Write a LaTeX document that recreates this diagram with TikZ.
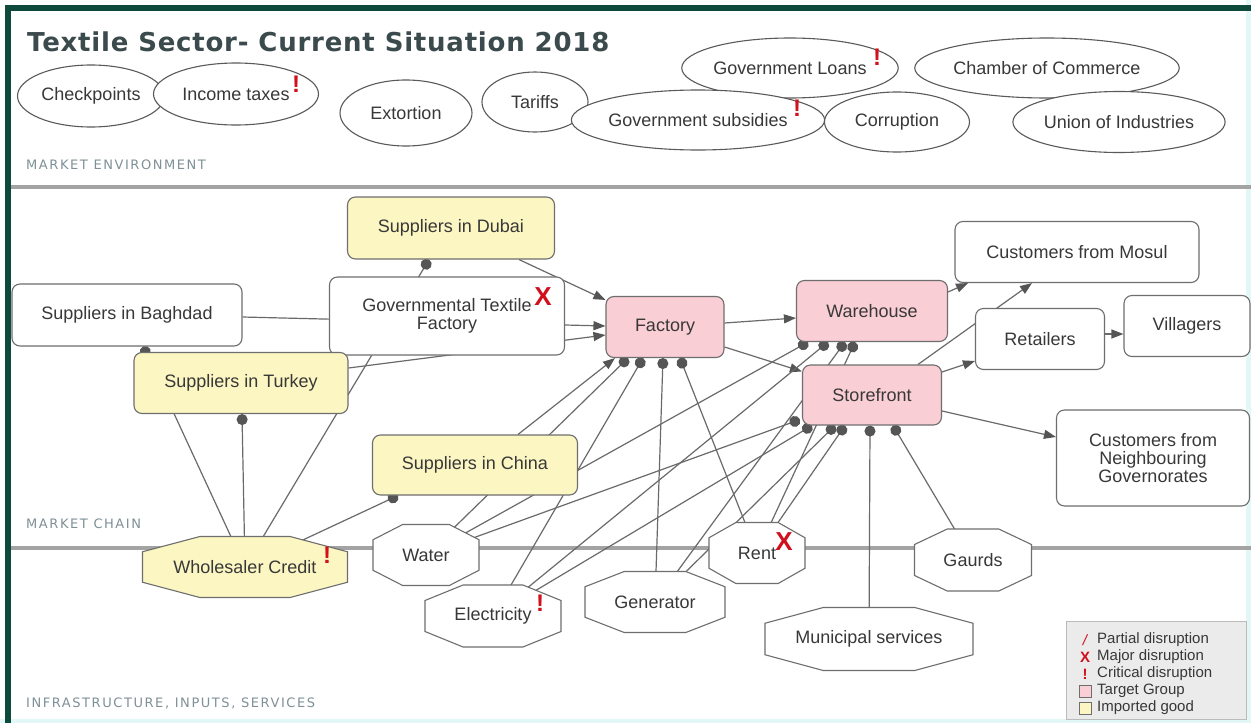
\documentclass[tikz,border=0pt]{standalone}
\usepackage{fontspec}
\setmainfont{Liberation Sans}
\newfontfamily\titlefont[LetterSpace=3]{DejaVu Sans}
\newfontfamily\secfont[LetterSpace=12]{DejaVu Sans}
\usetikzlibrary{shapes.geometric,arrows.meta,calc}
\definecolor{framec}{HTML}{0D4A3C}
\definecolor{stripc}{HTML}{E4F7F7}
\definecolor{sepc}{HTML}{A3A3A3}
\definecolor{titlec}{HTML}{3B4A4C}
\definecolor{secc}{HTML}{7F9097}
\definecolor{txt}{HTML}{383838}
\definecolor{boxline}{HTML}{6E6E6E}
\definecolor{ellline}{HTML}{5A5A5A}
\definecolor{impc}{HTML}{FCF6C3}
\definecolor{tgtc}{HTML}{F9CED4}
\definecolor{linkc}{HTML}{6A6A6A}
\definecolor{tipc}{HTML}{555555}
\definecolor{critc}{HTML}{D0101C}
\definecolor{legfill}{HTML}{EBEBEB}
\definecolor{legline}{HTML}{BBBBBB}
\pgfdeclarelayer{bg}
\pgfsetlayers{bg,main}
\tikzset{
  box/.style={draw=boxline, line width=1.1pt, rounded corners=8pt, fill=white, text=txt, align=center, inner sep=0pt},
  env/.style={ellipse, draw=ellline, line width=1.1pt, fill=white, text=txt, inner sep=0pt},
  octline/.style={draw=boxline, line width=1.1pt},
  octtext/.style={inner sep=0pt, text=txt},
  link/.style={draw=linkc, line width=1.2pt},
  arr/.style={link, -{Triangle[length=12pt,width=9pt,color=tipc]}},
  dot/.style={link, -{Circle[length=11pt,color=tipc]}},
  crit/.style={text=critc, font=\bfseries\fontsize{24}{24}\selectfont, inner sep=0pt},
  maj/.style={text=critc, font=\bfseries\fontsize{26}{26}\selectfont, inner sep=0pt},
  sec/.style={text=secc, font=\secfont\fontsize{13}{13}\selectfont, inner sep=0pt, anchor=west},
  legtext/.style={text=txt, font=\fontsize{15}{15}\selectfont, inner sep=0pt, anchor=west},
  legmark/.style={text=critc, font=\bfseries\fontsize{15}{15}\selectfont, inner sep=0pt},
  sepline/.style={draw=sepc, line width=4pt}
}
\newcommand\octo[7][white]{%
  \draw[octline, fill=#1] ({#3-#5/2},{#4-0.25*#6}) -- ({#3-0.22*#5},{#4-#6/2}) -- ({#3+0.22*#5},{#4-#6/2}) -- ({#3+#5/2},{#4-0.25*#6}) -- ({#3+#5/2},{#4+0.25*#6}) -- ({#3+0.22*#5},{#4+#6/2}) -- ({#3-0.22*#5},{#4+#6/2}) -- ({#3-#5/2},{#4+0.25*#6}) -- cycle;
  \node[octtext, minimum width=#5, minimum height=#6] (#2) at (#3,#4) {#7};}
\begin{document}
\begin{tikzpicture}[x=1pt, y=-1pt, font=\fontsize{18}{18}\selectfont]
\useasboundingbox (0,0) rectangle (1251,723);

% title and section labels
\node[anchor=west, font=\titlefont\bfseries\fontsize{26}{26}\selectfont, text=titlec, inner sep=0pt] (title) at (27,42) {Textile Sector- Current Situation 2018};
\node[sec] (lenv) at (26,165) {MARKET ENVIRONMENT};
\node[sec] (lchain) at (26,524) {MARKET CHAIN};
\node[sec] (linfra) at (26,703) {INFRASTRUCTURE, INPUTS, SERVICES};

% market environment
\node[env, minimum width=147, minimum height=62] (checkpoints) at (91,96) {Checkpoints};
\node[env, minimum width=165, minimum height=62] (income) at (236,94) {Income taxes};
\node[env, minimum width=132, minimum height=66] (extortion) at (406,113) {Extortion};
\node[env, minimum width=106, minimum height=60] (tariffs) at (535,102) {Tariffs};
\node[env, minimum width=214, minimum height=60] (loans) at (790,68) {Government Loans};
\node[env, minimum width=240, minimum height=60] (subsidies) at (698,120) {Government subsidies};
\node[env, minimum width=249, minimum height=60] (chamber) at (1047,68) {Chamber of Commerce};
\node[env, minimum width=145, minimum height=60] (corruption) at (897,122) {Corruption};
\node[env, minimum width=212, minimum height=61] (union) at (1119,122) {Union of Industries};

% market chain
\node[box, fill=impc, minimum width=207, minimum height=62] (dubai) at (451,228) {Suppliers in Dubai};
\node[box, minimum width=235, minimum height=78] (gov) at (447,316) {Governmental Textile\\Factory};
\node[box, minimum width=230, minimum height=62] (baghdad) at (127,315) {Suppliers in Baghdad};
\node[box, fill=impc, minimum width=214, minimum height=61] (turkey) at (241,383) {Suppliers in Turkey};
\node[box, fill=tgtc, minimum width=118, minimum height=61] (factory) at (665,327) {Factory};
\node[box, fill=tgtc, minimum width=151, minimum height=61] (warehouse) at (872,311) {Warehouse};
\node[box, fill=tgtc, minimum width=139, minimum height=60] (storefront) at (872,395) {Storefront};
\node[box, minimum width=244, minimum height=61] (mosul) at (1077,252) {Customers from Mosul};
\node[box, minimum width=129, minimum height=61] (retailers) at (1040,339) {Retailers};
\node[box, minimum width=126, minimum height=61] (villagers) at (1187,326) {Villagers};
\node[box, minimum width=193, minimum height=96] (neigh) at (1153,458) {Customers from\\Neighbouring\\Governorates};
\node[box, fill=impc, minimum width=205, minimum height=60] (china) at (475,465) {Suppliers in China};

% infrastructure
\octo[impc]{wholesale}{245}{567}{205}{61}{Wholesaler Credit}
\octo{water}{426}{555}{106}{61}{Water}
\octo{electricity}{493}{616}{136}{62}{Electricity}
\octo{generator}{655}{602}{140}{61}{Generator}
\octo{rent}{757}{553}{96}{61}{Rent}
\octo{gaurds}{973}{560}{117}{62}{Gaurds}
\octo{municipal}{869}{639}{208}{63}{Municipal services}

% disruption marks
\node[crit] (m1) at (296,84) {!};
\node[crit] (m2) at (877,57) {!};
\node[crit] (m3) at (797,108) {!};
\node[maj] (m4) at (543,297) {X};
\node[crit] (m5) at (327,555) {!};
\node[crit] (m6) at (540,603) {!};
\node[maj] (m7) at (784,542) {X};

% legend
\node[draw=legline, fill=legfill, minimum width=180, minimum height=98, anchor=north west, inner sep=0pt] (legend) at (1066,621) {};
\node[text=critc, font=\itshape\fontsize{15}{15}\selectfont, inner sep=0pt] (lg1) at (1085,640) {/};
\node[legmark] (lg2) at (1085,657) {X};
\node[legmark] (lg3) at (1085,674) {!};
\node[draw=boxline, fill=tgtc, minimum size=12, inner sep=0pt] (lg4) at (1085,691) {};
\node[draw=boxline, fill=impc, minimum size=12, inner sep=0pt] (lg5) at (1085,708) {};
\node[legtext] (lt1) at (1097,640) {Partial disruption};
\node[legtext] (lt2) at (1097,657) {Major disruption};
\node[legtext] (lt3) at (1097,674) {Critical disruption};
\node[legtext] (lt4) at (1097,691) {Target Group};
\node[legtext] (lt5) at (1097,708) {Imported good};

\begin{pgfonlayer}{bg}
\fill[white] (0,0) rectangle (1251,723);
\fill[stripc] (1246,0) rectangle (1251,723);
\fill[stripc] (0,719) rectangle (1251,723);
\fill[framec] (5,5) rectangle (1251,11);
\fill[framec] (5,5) rectangle (11,723);
\draw[sepline] (11,186.5) -- (1251,186.5);
\draw[sepline] (11,548) -- (1251,548);

% flows
\draw[arr] ($(baghdad.east)+(0,2)$) -- ($(factory.west)+(0,-1)$);
\draw[arr] ($(turkey.east)+(0,-15)$) -- ($(factory.west)+(0,8)$);
\draw[arr] ($(dubai.south)+(68,0)$) -- ($(factory.north west)+(0,4)$);
\draw[arr] ($(china.north)+(43,0)$) -- ($(factory.south)+(-50,0)$);
\draw[arr] ($(factory.east)+(0,-4)$) -- ($(warehouse.west)+(0,7)$);
\draw[arr] ($(factory.east)+(0,20)$) -- ($(storefront.north west)+(0,7)$);
\draw[arr] ($(warehouse.east)+(0,-19)$) -- ($(mosul.south)+(-109,0)$);
\draw[arr] ($(storefront.north)+(46,0)$) -- ($(mosul.south)+(-45,0)$);
\draw[arr] ($(storefront.east)+(0,-23)$) -- ($(retailers.west)+(0,22)$);
\draw[arr] ($(retailers.east)+(0,-5)$) -- ($(villagers.west)+(0,8)$);
\draw[arr] ($(storefront.east)+(0,16)$) -- ($(neigh.west)+(0,-21)$);

% credit links
\draw[dot] (wholesale.center) -- ($(baghdad.south)+(16,0)$);
\draw[dot] (wholesale.center) -- ($(turkey.south)+(1,0)$);
\draw[dot] (wholesale.center) -- ($(dubai.south)+(-22,0)$);
\draw[dot] (wholesale.center) -- ($(china.south)+(-77,0)$);

% infrastructure links
\draw[dot] (water.center) -- ($(factory.south)+(-37,0)$);
\draw[dot] (water.center) -- ($(warehouse.south)+(-64,0)$);
\draw[dot] (water.center) -- ($(storefront.south west)+(-2,-6)$);
\draw[dot] (electricity.center) -- ($(factory.south)+(-22,0)$);
\draw[dot] (electricity.center) -- ($(warehouse.south)+(-44,0)$);
\draw[dot] (electricity.center) -- ($(storefront.south)+(-60,0)$);
\draw[dot] (generator.center) -- ($(factory.south)+(-2,0)$);
\draw[dot] (generator.center) -- ($(warehouse.south)+(-27,0)$);
\draw[dot] (generator.center) -- ($(storefront.south)+(-37,0)$);
\draw[dot] (rent.center) -- ($(factory.south)+(15,0)$);
\draw[dot] (rent.center) -- ($(warehouse.south)+(-17,0)$);
\draw[dot] (rent.center) -- ($(storefront.south)+(-27,0)$);
\draw[dot] (municipal.center) -- ($(storefront.south)+(-2,0)$);
\draw[dot] (gaurds.center) -- ($(storefront.south)+(21,0)$);
\end{pgfonlayer}
\end{tikzpicture}
\end{document}
